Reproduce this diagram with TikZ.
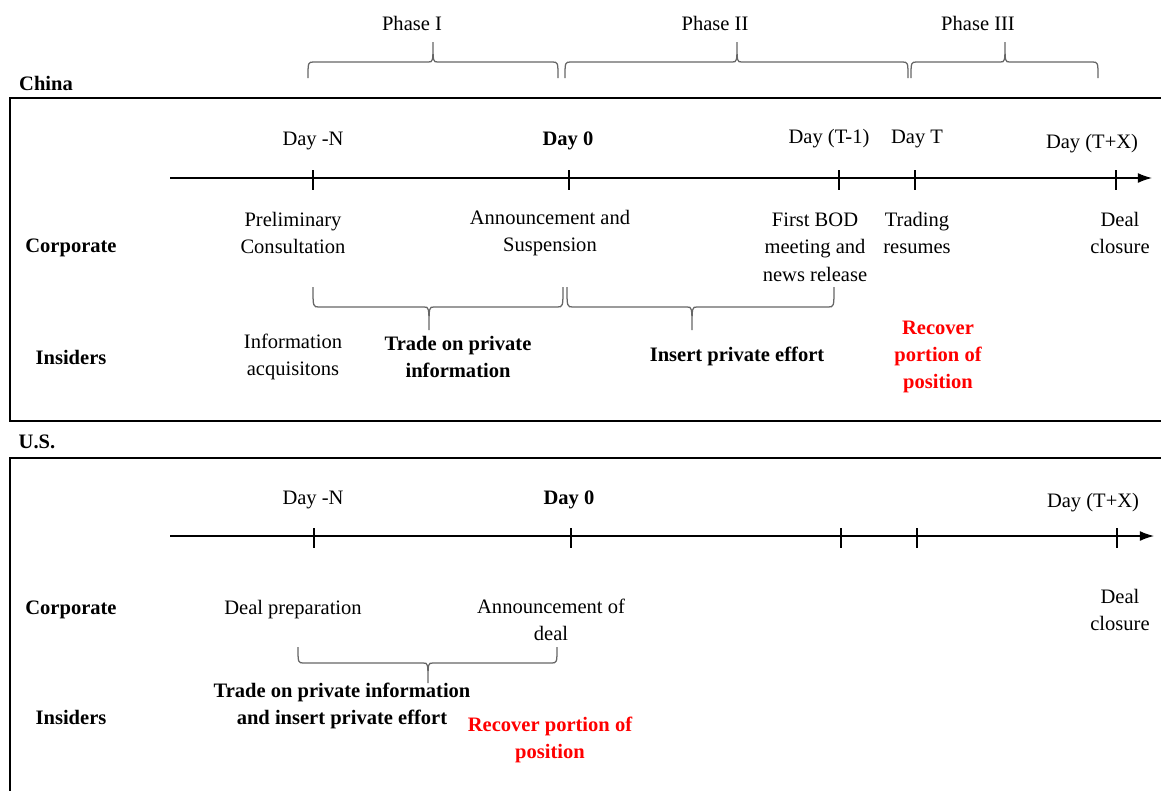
\documentclass[tikz,border=0pt]{standalone}
\usepackage{fontspec}
\setmainfont{Liberation Serif}
\usetikzlibrary{arrows.meta}
\tikzset{
  lbl/.style={align=center,inner sep=0pt,font=\fontsize{14.6}{19.5}\selectfont},
  blbl/.style={lbl,font=\fontsize{14.6}{19.5}\selectfont\bfseries},
  rlbl/.style={blbl,text=red},
  frame/.style={line width=2pt},
  axis/.style={line width=0.9pt,-{Latex[length=10pt,width=7pt]}},
  tick/.style={line width=0.9pt},
  brc/.style={draw=black!60,line width=0.9pt}
}
% brace: left x, right x, tip x, end y, flat y, tip y
\newcommand\phbrace[6]{%
  \draw[brc] (#1,#4) .. controls (#1,#5) .. (#1+6,#5) -- (#3-5,#5)
    .. controls (#3,#5) .. (#3,#6) .. controls (#3,#5) .. (#3+5,#5)
    -- (#2-6,#5) .. controls (#2,#5) .. (#2,#4);}
\begin{document}
\begin{tikzpicture}[x=0.025cm,y=-0.025cm]
  \useasboundingbox (0,0) rectangle (1161,790);
  % phases on top
  \node[lbl] (ph1) at (412,23) {Phase I};
  \node[lbl] (ph2) at (715,23) {Phase II};
  \node[lbl] (ph3) at (978,23) {Phase III};
  \phbrace{308}{558}{433}{78}{62}{42}
  \phbrace{565}{908}{737}{78}{62}{42}
  \phbrace{911}{1098}{1005}{78}{62}{42}
  % China panel
  \node[blbl] (cn) at (46,83) {China};
  \draw[frame] (1175,98) -- (10,98) -- (10,421) -- (1175,421);
  \coordinate (cn-start) at (170,178);
  \coordinate (cn-end) at (1152,178);
  \draw[axis] (cn-start) -- (cn-end);
  \foreach \x in {313,569,839,915,1116}
    \draw[tick] (\x,170) -- (\x,190);
  \node[lbl] (cn-dayN) at (313,141) {Day -N};
  \node[blbl] (cn-day0) at (568,141) {Day 0};
  \node[lbl] (cn-dayT1) at (829,139) {Day (T-1)};
  \node[lbl] (cn-dayT) at (917,139) {Day T};
  \node[lbl] (cn-dayTX) at (1092,144) {Day (T+X)};
  \node[blbl] (cn-corp) at (71,248) {Corporate};
  \node[blbl] (cn-ins) at (71,357) {Insiders};
  \node[lbl] (cn-prelim) at (293,233) {Preliminary\\Consultation};
  \node[lbl] (cn-annc) at (550,233) {Announcement and\\Suspension};
  \node[lbl] (cn-bod) at (815,247) {First BOD\\meeting and\\news release};
  \node[lbl] (cn-trade) at (917,233) {Trading\\resumes};
  \node[lbl] (cn-close) at (1120,233) {Deal\\closure};
  \phbrace{313}{563}{429}{287}{307}{330}
  \phbrace{567}{834}{692}{287}{307}{330}
  \node[lbl] (cn-info) at (293,357) {Information\\acquisitons};
  \node[blbl] (cn-priv) at (458,357) {Trade on private\\information};
  \node[blbl] (cn-effort) at (737,356) {Insert private effort};
  \node[rlbl] (cn-recover) at (938,357) {Recover\\portion of\\position};
  % U.S. panel
  \node[blbl] (us) at (37,442) {U.S.};
  \draw[frame] (1175,458) -- (10,458) -- (10,805);
  \coordinate (us-start) at (170,536);
  \coordinate (us-end) at (1154,536);
  \draw[axis] (us-start) -- (us-end);
  \foreach \x in {314,571,841,917,1117}
    \draw[tick] (\x,528) -- (\x,548);
  \node[lbl] (us-dayN) at (313,500) {Day -N};
  \node[blbl] (us-day0) at (569,500) {Day 0};
  \node[lbl] (us-dayTX) at (1093,503) {Day (T+X)};
  \node[blbl] (us-corp) at (71,610) {Corporate};
  \node[blbl] (us-ins) at (71,717) {Insiders};
  \node[lbl] (us-prep) at (293,610) {Deal preparation};
  \node[lbl] (us-annc) at (551,620) {Announcement of\\deal};
  \node[lbl] (us-close) at (1120,610) {Deal\\closure};
  \phbrace{298}{557}{428}{647}{663}{683}
  \node[blbl] (us-priv) at (342,706) {Trade on private information\\and insert private effort};
  \node[rlbl] (us-recover) at (550,740) {Recover portion of\\position};
\end{tikzpicture}
\end{document}
